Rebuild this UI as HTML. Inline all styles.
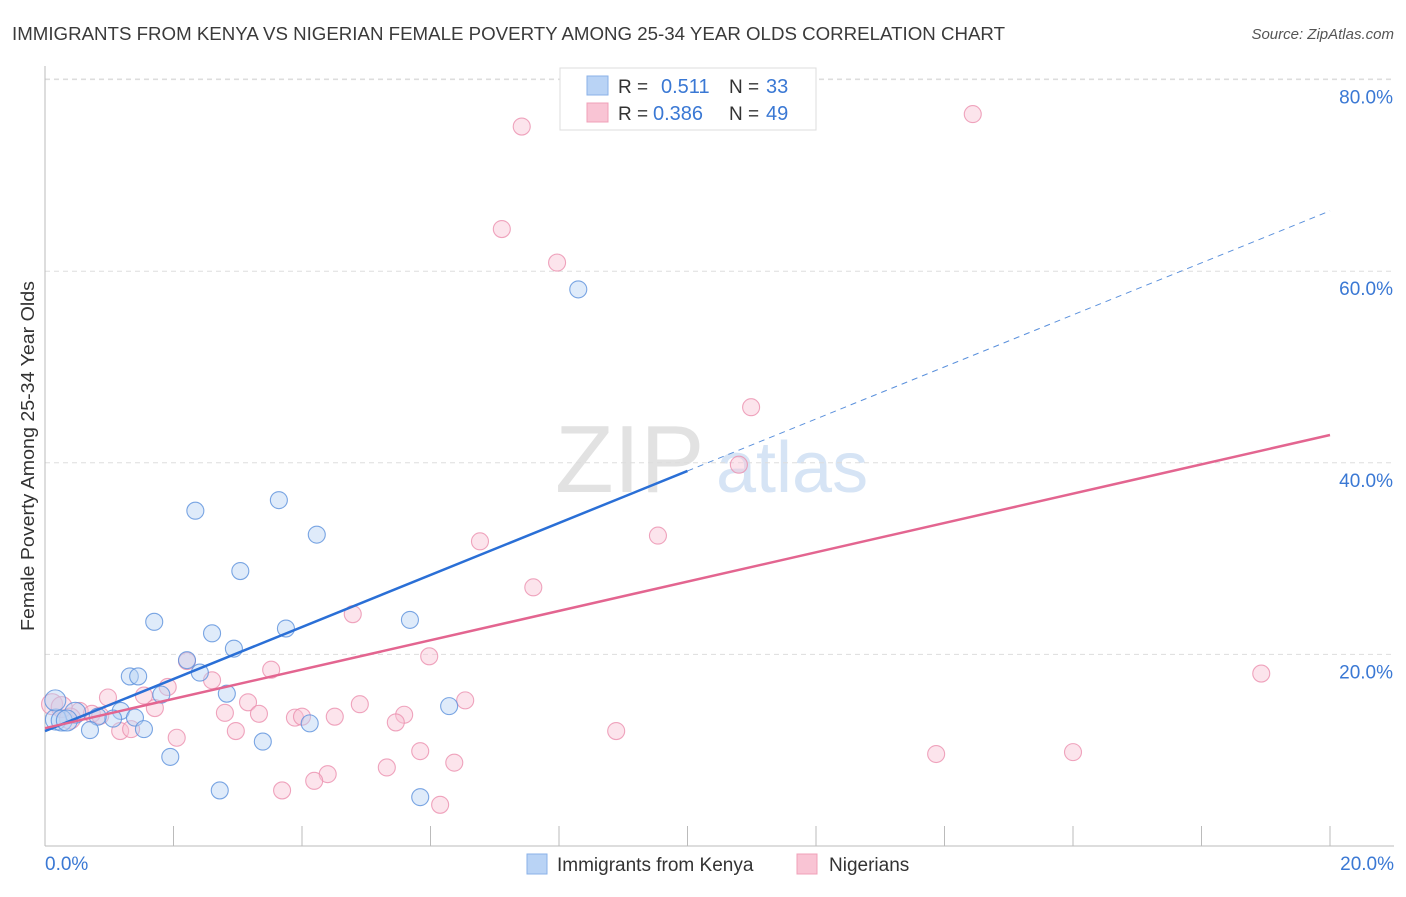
<!DOCTYPE html>
<html><head><meta charset="utf-8"><style>
body{margin:0;background:#fff;font-family:"Liberation Sans",sans-serif}
svg text{font-family:"Liberation Sans",sans-serif}
</style></head><body>
<svg width="1406" height="892" id="chart">
<text x="12" y="40" font-size="18" fill="#3a3a3a" textLength="993" lengthAdjust="spacingAndGlyphs">IMMIGRANTS FROM KENYA VS NIGERIAN FEMALE POVERTY AMONG 25-34 YEAR OLDS CORRELATION CHART</text>
<text x="1394" y="39" font-size="15" fill="#555" font-style="italic" text-anchor="end">Source: ZipAtlas.com</text>
<text x="0" y="0" transform="translate(34,456) rotate(-90)" font-size="18" fill="#333" text-anchor="middle" textLength="350" lengthAdjust="spacingAndGlyphs">Female Poverty Among 25-34 Year Olds</text>
<g><text x="555" y="492" font-size="96" fill="#e2e2e2" font-family="Liberation Serif">ZIP</text><text x="716" y="492" font-size="72" fill="#d6e4f5">atlas</text></g>
<g id="grid"></g><g id="axes"></g><g id="pts"></g><g id="lines"></g>
<g>
<rect x="560" y="68" width="256" height="62" fill="#fff" stroke="#ddd"/>
<rect x="587" y="76" width="21" height="19" fill="#b9d3f5" stroke="#8ab2e8"/>
<rect x="587" y="103" width="21" height="19" fill="#f9c4d4" stroke="#f0a0b8"/>
<text x="618" y="93" font-size="19" fill="#333">R = </text><text x="661" y="93" font-size="20" fill="#3a78d4">0.511</text>
<text x="729" y="93" font-size="19" fill="#333">N = </text><text x="766" y="93" font-size="20" fill="#3a78d4">33</text>
<text x="618" y="120" font-size="19" fill="#333">R = </text><text x="653" y="120" font-size="20" fill="#3a78d4">0.386</text>
<text x="729" y="120" font-size="19" fill="#333">N = </text><text x="766" y="120" font-size="20" fill="#3a78d4">49</text>
</g>
<g>
<rect x="527" y="854" width="20" height="20" fill="#b9d3f5" stroke="#8ab2e8"/>
<text x="557" y="871" font-size="19" fill="#333">Immigrants from Kenya</text>
<rect x="797" y="854" width="20" height="20" fill="#f9c4d4" stroke="#f0a0b8"/>
<text x="829" y="871" font-size="19" fill="#333">Nigerians</text>
</g>
</svg>
<script>
const yTicks=[20,40,60,80];
const xTickVals=[0,2,4,6,8,10,12,14,16,18,20];
const xLabels=["0.0%","20.0%"];
const kenyaX=[2.34,3.64,4.23,3.04,1.7,5.68,2.6,3.75,2.94,2.21,1.32,1.45,2.41,2.83,1.81,1.18,1.4,1.06,0.82,0.47,0.17,0.26,0.34,0.7,1.54,4.12,6.29,3.39,1.95,2.72,5.84,8.3,0.16];
const kenyaY=[35.0,36.1,32.5,28.7,23.4,23.6,22.2,22.7,20.6,19.4,17.7,17.7,18.1,15.9,15.8,14.1,13.4,13.3,13.5,13.9,13.2,13.1,13.1,12.1,12.2,12.8,14.6,10.9,9.3,5.8,5.1,58.1,15.2];
const nigX=[7.42,14.44,7.11,7.97,10.99,10.8,9.54,6.77,7.6,4.79,5.98,18.93,3.52,2.21,2.6,1.91,0.98,1.54,3.16,4.9,6.54,1.71,2.8,3.33,3.89,4.0,4.51,5.59,5.46,1.17,1.34,2.97,8.89,2.05,5.84,13.87,16.0,5.32,6.37,4.4,4.19,3.69,6.15,0.11,0.26,0.54,0.73,0.86,0.39];
const nigY=[75.1,76.4,64.4,60.9,45.8,39.8,32.4,31.8,27.0,24.2,19.8,18.0,18.4,19.3,17.3,16.6,15.5,15.7,15.0,14.8,15.2,14.4,13.9,13.8,13.4,13.5,13.5,13.7,12.9,12.0,12.2,12.0,12.0,11.3,9.9,9.6,9.8,8.2,8.7,7.5,6.8,5.8,4.3,14.8,14.5,14.1,13.8,13.6,13.3];
const kenyaLine=[12.0,66.3];
const nigLine=[12.3,42.9];
const NS="http://www.w3.org/2000/svg";
const X=v=>45+v*64.25, Y=v=>846-v*9.58;
function mk(t,p,a){const e=document.createElementNS(NS,t);for(const k in a)e.setAttribute(k,a[k]);p.appendChild(e);return e;}
const grid=document.getElementById('grid'),axes=document.getElementById('axes'),pts=document.getElementById('pts'),lines=document.getElementById('lines');
mk('line',grid,{x1:45,x2:1394,y1:79,y2:79,stroke:'#ddd','stroke-dasharray':'5,4'});
yTicks.forEach(v=>{const l=mk('line',grid,{x1:45,x2:1394,y1:Y(v),y2:Y(v),stroke:'#ddd','stroke-dasharray':'5,4'});


const t=mk('text',grid,{x:1393,y:Y(v)+24,'font-size':19,fill:'#3a78d4','text-anchor':'end'});t.textContent=v.toFixed(1)+'%';

});
mk('line',axes,{x1:45,x2:45,y1:66,y2:846,stroke:'#bbb'});
mk('line',axes,{x1:45,x2:1394,y1:846,y2:846,stroke:'#bbb'});
xTickVals.forEach((v,i)=>{if(i>0){const l=mk('line',axes,{x1:X(v),x2:X(v),y1:826,y2:846,stroke:'#bbb'});

}});
[[0,'start',45],[1,'end',1394]].forEach(([i,a,x])=>{const t=mk('text',axes,{x:x,y:870,'font-size':19,fill:'#3a78d4','text-anchor':a});t.textContent=xLabels[i];

});
function dots(xs,ys,f,s,n){xs.forEach((x,i)=>{const big=x<0.5;const c=mk('circle',pts,{cx:X(x),cy:Y(ys[i]),r:big?10.5:8.5,fill:f,'fill-opacity':0.45,stroke:s,'stroke-opacity':0.8,'stroke-width':1.1});

});}
dots(nigX,nigY,'#f9c4d4','#eb8fae','nigerians-point');
dots(kenyaX,kenyaY,'#b9d3f5','#5a90dc','kenya-point');
const kx=10;const kmid=kenyaLine[0]+(kenyaLine[1]-kenyaLine[0])*kx/20;
let l=mk('line',lines,{x1:X(0),y1:Y(kenyaLine[0]),x2:X(kx),y2:Y(kmid),stroke:'#2a6fd6','stroke-width':2.5});


l=mk('line',lines,{x1:X(kx),y1:Y(kmid),x2:X(20),y2:Y(kenyaLine[1]),stroke:'#5a90dc','stroke-width':1,'stroke-dasharray':'6,5'});


l=mk('line',lines,{x1:X(0),y1:Y(nigLine[0]),x2:X(20),y2:Y(nigLine[1]),stroke:'#e36590','stroke-width':2.5});


</script>
</body></html>
